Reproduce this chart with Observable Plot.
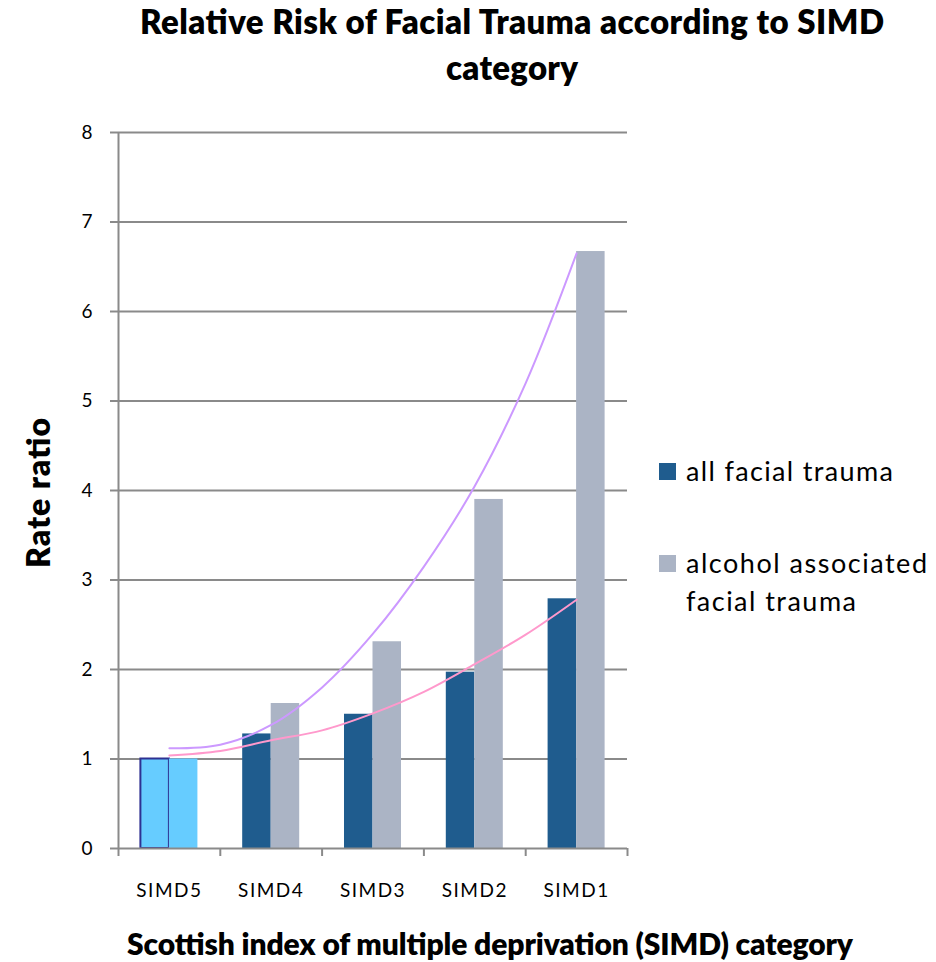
<!DOCTYPE html>
<html>
<head>
<meta charset="utf-8">
<script src="https://cdn.jsdelivr.net/npm/d3@7"></script>
<script src="https://cdn.jsdelivr.net/npm/@observablehq/plot@0.6"></script>
<style>
  html, body { margin: 0; padding: 0; background: #fff; }
  #chart { position: relative; width: 936px; height: 962px; font-family: Lato, "Open Sans", sans-serif; }
  #chart svg { position: absolute; left: 0; top: 0; }
  .cat-labels text { letter-spacing: 1.5px; }
</style>
</head>
<body>
<div id="chart"></div>
<script>
// SIMD categories, most deprived (SIMD1) on the right
const categories = ["SIMD5", "SIMD4", "SIMD3", "SIMD2", "SIMD1"];
const seriesNames = ["all facial trauma", "alcohol associated facial trauma"];
// rate ratios relative to SIMD5
const allFacial = [1.0, 1.28, 1.5, 1.97, 2.79];
const alcoholFacial = [1.0, 1.62, 2.31, 3.9, 6.67];
// trend curves, sampled every half category from SIMD5 to SIMD1
const trendAt = [0, 0.5, 1, 1.5, 2, 2.5, 3, 3.5, 4];
const allTrend = [1.04, 1.09, 1.21, 1.32, 1.51, 1.75, 2.06, 2.39, 2.78];
const alcoholTrend = [1.12, 1.16, 1.38, 1.80, 2.40, 3.15, 4.05, 5.2, 6.65];
const yTicks = [0, 1, 2, 3, 4, 5, 6, 7, 8];

const colors = { all: "#1F5C8E", alcohol: "#ABB4C5", reference: "#66CCFF", refEdge: "#2E3192" };
const trendColors = { all: "#FF99CC", alcohol: "#CC99FF" };
const gridColor = "#8A8A8A";

// each category spans one unit; the bar pair sits in its middle
const groupPad = 0.22, barW = 0.28;
const bars = [];
categories.forEach((c, i) => {
  [allFacial, alcoholFacial].forEach((vals, s) => {
    bars.push({ cat: c, i, s, value: vals[i] });
  });
});
const trendRows = (vals) => trendAt.map((k, j) => ({ k, v: vals[j] }));

const plot = Plot.plot({
  width: 936,
  height: 962,
  marginLeft: 118,
  marginRight: 309,
  marginTop: 132,
  marginBottom: 114,
  style: { fontFamily: "Lato, 'Open Sans', sans-serif", fontSize: "19px", color: "#000", background: "#fff" },
  x: { domain: [0, categories.length], axis: null },
  y: { domain: [0, 8], axis: null },
  marks: [
    Plot.ruleY(yTicks.filter((t) => t > 0), { stroke: gridColor, strokeWidth: 2 }),
    Plot.rectY(bars, {
      x1: (d) => d.i + groupPad + d.s * barW,
      x2: (d) => d.i + groupPad + (d.s + 1) * barW,
      y1: 0,
      y2: "value",
      inset: 0,
      fill: (d) => (d.i === 0 ? colors.reference : d.s === 0 ? colors.all : colors.alcohol),
      stroke: (d) => (d.i === 0 && d.s === 0 ? colors.refEdge : "none"),
      strokeWidth: 2
    }),
    Plot.lineY(trendRows(alcoholTrend), { x: (d) => d.k + 0.5, y: "v", stroke: trendColors.alcohol, strokeWidth: 2, curve: "catmull-rom" }),
    Plot.lineY(trendRows(allTrend), { x: (d) => d.k + 0.5, y: "v", stroke: trendColors.all, strokeWidth: 2, curve: "catmull-rom" }),
    Plot.ruleY([0], { stroke: gridColor, strokeWidth: 2 }),
    Plot.ruleX([0], { y1: 0, y2: 8, stroke: gridColor, strokeWidth: 2 }),
    Plot.axisY({
      ticks: yTicks, tickSize: 8, tickPadding: 18, tickFormat: d3.format("d"),
      stroke: gridColor, strokeWidth: 2, strokeOpacity: 1, fontSize: 19, label: null
    }),
    Plot.axisX({
      ticks: d3.range(0, categories.length + 1), tickSize: 8, tickFormat: () => "",
      stroke: gridColor, strokeWidth: 2, strokeOpacity: 1, label: null
    }),
    Plot.text(categories, {
      x: (d, i) => i + 0.5, y: 0, dy: 42, fontSize: 19, fill: "#000", className: "cat-labels"
    })
  ]
});
document.getElementById("chart").appendChild(plot);

// titles and legend
const overlay = d3.select("#chart").append("svg")
  .attr("width", 936).attr("height", 962)
  .style("pointer-events", "none")
  .attr("font-family", "Lato, 'Open Sans', sans-serif");

function label(x, y, text, opts = {}) {
  const t = overlay.append("text")
    .attr("x", x).attr("y", y)
    .attr("font-size", opts.size || 25)
    .attr("font-weight", opts.weight || "normal")
    .attr("text-anchor", opts.anchor || "start")
    .attr("fill", "#000")
    .text(text);
  if (opts.length) t.attr("textLength", opts.length).attr("lengthAdjust", "spacing");
  if (opts.rotate) t.attr("transform", `rotate(-90 ${x} ${y})`);
  return t;
}

label(512, 34, "Relative Risk of Facial Trauma according to SIMD", { size: 33, weight: 800, anchor: "middle", length: 744 });
label(512, 80, "category", { size: 33, weight: 800, anchor: "middle", length: 132 });
label(50, 493, "Rate ratio", { size: 32, weight: 800, anchor: "middle", rotate: true, length: 150 });
label(490, 955, "Scottish index of multiple deprivation (SIMD) category", { size: 30, weight: 800, anchor: "middle", length: 726 });

// legend
const legendItems = [
  { lines: ["all facial trauma"], color: colors.all, top: 463 },
  { lines: ["alcohol associated", "facial trauma"], color: colors.alcohol, top: 555 }
];
const legendLengths = { "all facial trauma": 207, "alcohol associated": 241, "facial trauma": 170 };
legendItems.forEach((item) => {
  overlay.append("rect").attr("x", 659).attr("y", item.top).attr("width", 17).attr("height", 17).attr("fill", item.color);
  item.lines.forEach((ln, j) => {
    label(686, item.top + 17.5 + j * 38, ln, { size: 27, length: legendLengths[ln] });
  });
});
</script>
</body>
</html>
